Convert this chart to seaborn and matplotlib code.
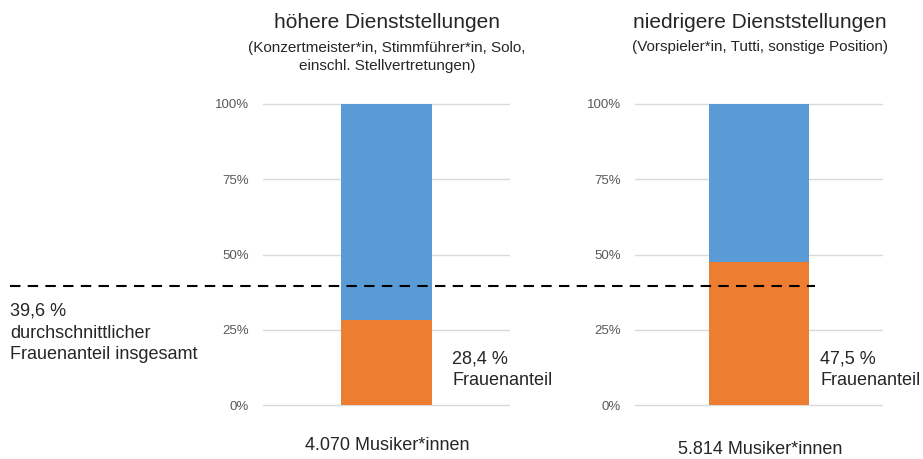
import matplotlib
matplotlib.use("Agg")
import matplotlib.pyplot as plt
import matplotlib.transforms as mtransforms
from matplotlib.ticker import PercentFormatter
import seaborn as sns

# data
groups = ["höhere Dienststellungen", "niedrigere Dienststellungen"]
subtitles = ["(Konzertmeister*in, Stimmführer*in, Solo,\neinschl. Stellvertretungen)",
             "(Vorspieler*in, Tutti, sonstige Position)"]
frauen_anteil = [0.284, 0.475]
frauen_labels = ["28,4 %", "47,5 %"]
musiker = ["4.070 Musiker*innen", "5.814 Musiker*innen"]
avg_anteil = 0.396
avg_label = "39,6 %\ndurchschnittlicher\nFrauenanteil insgesamt"
yticks = [0, 0.25, 0.5, 0.75, 1.0]

blue = "#5B9BD5"
orange = "#ED7D31"

sns.set_style("white")
plt.rcParams["font.family"] = ["Liberation Sans", "DejaVu Sans"]

W, H = 923, 459
fig = plt.figure(figsize=(W / 100, H / 100), dpi=100)


def px(x, y):
    return x / W, 1 - y / H


# axes placement in pixels: (left, right, bar width), 0% at y=405, 100% at y=104
panels = [(263, 510, 91), (635, 883, 100)]
y0, y1 = 405, 104
pad = 0.02
unit = y0 - y1
axes = []
for i, (xl, xr, bw) in enumerate(panels):
    bottom = H - (y0 + pad * unit)
    height = unit * (1 + 2 * pad)
    ax = fig.add_axes([xl / W, bottom / H, (xr - xl) / W, height / H])
    width = 0.8
    half = width / (bw / (xr - xl)) / 2
    sns.barplot(x=[groups[i]], y=[1.0], color=blue, saturation=1, width=width,
                linewidth=0, ax=ax, zorder=2)
    sns.barplot(x=[groups[i]], y=[frauen_anteil[i]], color=orange, saturation=1, width=width,
                linewidth=0, ax=ax, zorder=3)
    ax.set_xlim(-half, half)
    ax.set_ylim(-pad, 1 + pad)
    ax.set_yticks(yticks)
    ax.yaxis.set_major_formatter(PercentFormatter(1.0, decimals=0))
    ax.tick_params(axis="y", length=0, labelsize=9.5, labelcolor="#595959", pad=10)
    ax.set_xticks([])
    ax.set_xlabel("")
    ax.set_ylabel("")
    ax.grid(axis="y", color="#d9d9d9", linewidth=1, zorder=0)
    ax.set_axisbelow(True)
    ax.patch.set_visible(False)
    sns.despine(ax=ax, left=True, bottom=True)
    axes.append(ax)

# left axes on top so the average line runs over the right bar
axes[0].set_zorder(2)

# titles
fig.text(*px(387, 22), groups[0], ha="center", va="center", fontsize=15)
fig.text(*px(387, 57), subtitles[0], ha="center", va="center", fontsize=11, linespacing=1.3)
fig.text(*px(760, 22), groups[1], ha="center", va="center", fontsize=15)
fig.text(*px(760, 47), subtitles[1], ha="center", va="center", fontsize=11)

# bottom labels
fig.text(*px(387, 445), musiker[0], ha="center", va="center", fontsize=13)
fig.text(*px(760, 449), musiker[1], ha="center", va="center", fontsize=13)

# share labels
fig.text(*px(452, 370), frauen_labels[0] + "\nFrauenanteil", ha="left", va="center", fontsize=13, linespacing=1.35)
fig.text(*px(820, 370), frauen_labels[1] + "\nFrauenanteil", ha="left", va="center", fontsize=13, linespacing=1.35)

# average line across the figure
trans = mtransforms.blended_transform_factory(fig.transFigure, axes[0].transData)
axes[0].plot([10 / W, 815 / W], [avg_anteil, avg_anteil], transform=trans, color="black",
             linewidth=1.5, linestyle=(0, (5, 3.5)), clip_on=False, zorder=5)
fig.text(*px(10, 333), avg_label, ha="left", va="center", fontsize=13, linespacing=1.35)

fig.savefig("out.png", dpi=100)
